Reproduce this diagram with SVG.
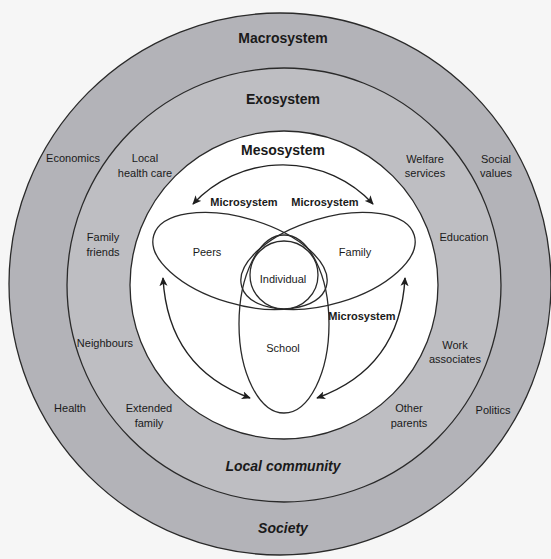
<svg xmlns="http://www.w3.org/2000/svg" width="551" height="559" viewBox="0 0 551 559">
  <defs>
    <marker id="ah" viewBox="0 0 10 10" refX="9" refY="5" markerWidth="9" markerHeight="9" markerUnits="userSpaceOnUse" orient="auto-start-reverse">
      <path d="M0,0.5 L10,5 L0,9.5 L2.5,5 z" fill="#1e1e1e"/>
    </marker>
    <style>
      .ring { stroke: #2a2a2a; stroke-width: 1.3; }
      .shape { fill: none; stroke: #2a2a2a; stroke-width: 1.3; }
      .conn { fill: none; stroke: #222; stroke-width: 1.4; marker-start: url(#ah); marker-end: url(#ah); }
      text { font-family: "Liberation Sans", Arial, sans-serif; fill: #1a1a1a; text-anchor: middle; font-size: 11px; }
      .sys { font-weight: bold; font-size: 14px; }
      .micro { font-weight: bold; font-size: 11px; }
      .ctx { font-weight: bold; font-style: italic; font-size: 14px; }
    </style>
  </defs>

  <rect x="0" y="0" width="551" height="559" fill="#f6f6f6"/>

  <g id="macrosystem">
    <circle class="ring" cx="280" cy="284" r="271" fill="#b3b3b8"/>
    <text class="sys" x="283" y="43">Macrosystem</text>
    <text class="ctx" x="283" y="533">Society</text>
    <text x="73" y="162">Economics</text>
    <text x="496" y="163">Social</text>
    <text x="496" y="177">values</text>
    <text x="70" y="412">Health</text>
    <text x="493" y="414">Politics</text>
  </g>

  <g id="exosystem">
    <circle class="ring" cx="284" cy="285" r="217" fill="#bebec2"/>
    <text class="sys" x="283" y="104">Exosystem</text>
    <text class="ctx" x="283" y="471">Local community</text>
    <text x="145" y="162">Local</text>
    <text x="145" y="177">health care</text>
    <text x="425" y="163">Welfare</text>
    <text x="425" y="177">services</text>
    <text x="103" y="241">Family</text>
    <text x="103" y="256">friends</text>
    <text x="464" y="241">Education</text>
    <text x="105" y="347">Neighbours</text>
    <text x="455" y="349">Work</text>
    <text x="455" y="363">associates</text>
    <text x="149" y="412">Extended</text>
    <text x="149" y="427">family</text>
    <text x="409" y="412">Other</text>
    <text x="409" y="427">parents</text>
  </g>

  <g id="mesosystem">
    <circle class="ring" cx="284" cy="285" r="154" fill="#ffffff"/>
    <text class="sys" x="283" y="155">Mesosystem</text>
  </g>

  <g id="peers">
    <ellipse class="shape" cx="240" cy="261" rx="90" ry="43" transform="rotate(16.6 240 261)"/>
    <text x="207" y="256">Peers</text>
    <text class="micro" x="244" y="206">Microsystem</text>
  </g>

  <g id="family">
    <ellipse class="shape" cx="328" cy="261" rx="90" ry="43" transform="rotate(-16.6 328 261)"/>
    <text x="355" y="256">Family</text>
    <text class="micro" x="325" y="206">Microsystem</text>
  </g>

  <g id="school">
    <ellipse class="shape" cx="284" cy="324" rx="45" ry="89"/>
    <text x="283" y="352">School</text>
    <text class="micro" x="362" y="320">Microsystem</text>
  </g>

  <g id="individual">
    <circle class="shape" cx="284" cy="275" r="34"/>
    <text x="283" y="283">Individual</text>
  </g>

  <g id="connectors">
    <path class="conn" d="M193,204 A123,123 0 0 1 373,204"/>
    <path class="conn" d="M163,278 Q168,368 250,398"/>
    <path class="conn" d="M405,278 Q400,368 317,398"/>
  </g>
</svg>
